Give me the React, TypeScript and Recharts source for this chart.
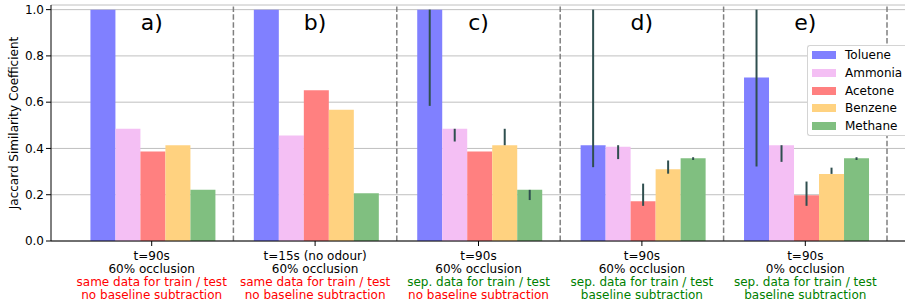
import React from "react";
import {
  BarChart,
  Bar,
  XAxis,
  YAxis,
  CartesianGrid,
  ErrorBar,
  ReferenceLine,
  ReferenceDot,
  Legend,
} from "recharts";

const categories = ["a)", "b)", "c)", "d)", "e)"];

const seriesNames = ["Toluene", "Ammonia", "Acetone", "Benzene", "Methane"];
const seriesColors = ["#8080ff", "#f4bff4", "#ff8080", "#ffd280", "#80bf80"];

const toluene = [1.0, 1.0, 1.0, 0.414, 0.707];
const ammonia = [0.485, 0.456, 0.485, 0.407, 0.414];
const acetone = [0.387, 0.652, 0.387, 0.172, 0.198];
const benzene = [0.414, 0.567, 0.414, 0.31, 0.29];
const methane = [0.221, 0.206, 0.221, 0.358, 0.358];

// error bar extents (absolute lower / upper bounds); null = no error bar
const tolueneLow = [null, null, 0.584, 0.319, 0.322];
const tolueneHigh = [null, null, 1.0, 1.0, 1.0];
const ammoniaLow = [null, null, 0.43, 0.354, 0.342];
const ammoniaHigh = [null, null, 0.485, 0.414, 0.414];
const acetoneLow = [null, null, null, 0.152, 0.152];
const acetoneHigh = [null, null, null, 0.248, 0.257];
const benzeneLow = [null, null, 0.414, 0.291, 0.29];
const benzeneHigh = [null, null, 0.485, 0.348, 0.317];
const methaneLow = [null, null, 0.177, 0.35, 0.35];
const methaneHigh = [null, null, 0.221, 0.362, 0.362];

const yTicks = [0, 0.2, 0.4, 0.6, 0.8, 1.0];

const labelLine1 = ["t=90s", "t=15s (no odour)", "t=90s", "t=90s", "t=90s"];
const labelLine2 = [
  "60% occlusion",
  "60% occlusion",
  "60% occlusion",
  "60% occlusion",
  "0% occlusion",
];
const labelLine3 = [
  "same data for train / test",
  "same data for train / test",
  "sep. data for train / test",
  "sep. data for train / test",
  "sep. data for train / test",
];
const labelLine4 = [
  "no baseline subtraction",
  "no baseline subtraction",
  "no baseline subtraction",
  "baseline subtraction",
  "baseline subtraction",
];
const line3Colors = ["#ff0000", "#ff0000", "#008000", "#008000", "#008000"];
const line4Colors = ["#ff0000", "#ff0000", "#ff0000", "#008000", "#008000"];

const seriesValues = [toluene, ammonia, acetone, benzene, methane];
const seriesLow = [tolueneLow, ammoniaLow, acetoneLow, benzeneLow, methaneLow];
const seriesHigh = [tolueneHigh, ammoniaHigh, acetoneHigh, benzeneHigh, methaneHigh];

const data = categories.map((cat, i) => {
  const row: any = { cat };
  seriesNames.forEach((name, s) => {
    const v = seriesValues[s][i];
    row[name] = v;
    const lo = seriesLow[s][i];
    const hi = seriesHigh[s][i];
    row[name + "_err"] =
      lo == null || hi == null ? undefined : [Math.max(0, v - lo), Math.max(0, hi - v)];
  });
  return row;
});

const FONT = "'DejaVu Sans', Verdana, sans-serif";

const XTick = (props: any) => {
  const { x, y, payload } = props;
  const idx = categories.indexOf(payload.value);
  const lines = [
    { t: labelLine1[idx], c: "#000" },
    { t: labelLine2[idx], c: "#000" },
    { t: labelLine3[idx], c: line3Colors[idx] },
    { t: labelLine4[idx], c: line4Colors[idx] },
  ];
  return (
    <g>
      {lines.map((l, k) => (
        <text
          key={k}
          x={x}
          y={y + 11.5 + k * 13.3}
          textAnchor="middle"
          fontSize={12}
          fontFamily={FONT}
          fill={l.c}
        >
          {l.t}
        </text>
      ))}
    </g>
  );
};

const LegendBox = () => (
  <div
    style={{
      position: "relative",
      width: 98,
      height: 91,
      boxSizing: "border-box",
      border: "1px solid #d4d4d4",
      borderRight: "none",
      borderRadius: "3px 0 0 3px",
      background: "#ffffff",
      fontFamily: FONT,
      fontSize: 12,
      color: "#000",
    }}
  >
    {seriesNames.map((name, i) => (
      <div
        key={name}
        style={{
          position: "absolute",
          left: 4,
          top: 0.5 + i * 17.7,
          height: 17.7,
          display: "flex",
          alignItems: "center",
          whiteSpace: "nowrap",
        }}
      >
        <span
          style={{
            display: "inline-block",
            width: 24,
            height: 8,
            background: seriesColors[i],
            marginRight: 9,
          }}
        />
        <span>{name}</span>
      </div>
    ))}
  </div>
);

export default function App() {
  return (
    <div
      style={{
        position: "absolute",
        left: 0,
        top: 0,
        width: 905,
        height: 303,
        overflow: "hidden",
        background: "#fff",
        fontFamily: FONT,
      }}
    >
      <BarChart
        width={905}
        height={303}
        data={data}
        margin={{ top: 5, right: 0, bottom: 0, left: 0 }}
        barCategoryGap="12.5%"
        barGap={0}
      >
        <CartesianGrid vertical={false} stroke="#b0b0b0" strokeWidth={0.8} />
        <XAxis
          dataKey="cat"
          type="category"
          height={62}
          padding={{ left: 19, right: 18 }}
          tickSize={5}
          tickMargin={2}
          stroke="#000"
          tick={<XTick />}
          interval={0}
        />
        <YAxis
          width={51}
          domain={[0, 1.02]}
          ticks={yTicks}
          tickFormatter={(v: number) => v.toFixed(1)}
          tickSize={5}
          tickMargin={2}
          stroke="#000"
          tick={{ fontSize: 12, fill: "#000", fontFamily: FONT }}
          label={{
            content: (p: any) => {
              const vb = p.viewBox || { x: 0, y: 5, width: 51, height: 236 };
              const cx = 17.5;
              const cy = vb.y + vb.height / 2;
              return (
                <text
                  x={cx}
                  y={cy}
                  transform={`rotate(-90, ${cx}, ${cy})`}
                  textAnchor="middle"
                  fontSize={12}
                  fontFamily={FONT}
                  fill="#000"
                >
                  Jaccard Similarity Coefficient
                </text>
              );
            },
          }}
        />
        {seriesNames.map((name, i) => (
          <Bar
            key={name}
            dataKey={name}
            name={name}
            fill={seriesColors[i]}
            isAnimationActive={false}
          >
            <ErrorBar
              dataKey={name + "_err"}
              direction="y"
              width={0}
              stroke="#2f4f4f"
              strokeWidth={2}
            />
          </Bar>
        ))}
        {categories.map((c) => (
          <ReferenceLine
            key={"sep" + c}
            x={c}
            position="end"
            stroke="#808080"
            strokeWidth={1.5}
            strokeDasharray="5.5 2.4"
          />
        ))}
        {categories.map((c) => (
          <ReferenceDot
            key={"lbl" + c}
            x={c}
            y={0.944}
            r={0}
            fill="none"
            stroke="none"
            label={{
              value: c,
              position: "center",
              fontSize: 22,
              fill: "#000",
              fontFamily: FONT,
            }}
          />
        ))}
        <Legend
          layout="vertical"
          align="center"
          verticalAlign="middle"
          wrapperStyle={{ left: 807, top: 45, width: 98, height: 91 }}
          content={() => <LegendBox />}
        />
      </BarChart>
    </div>
  );
}
